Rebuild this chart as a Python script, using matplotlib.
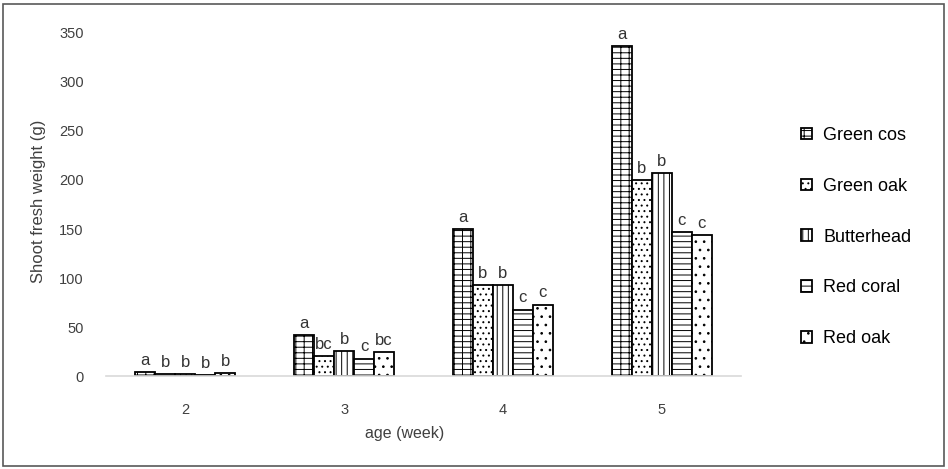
import numpy as np
import matplotlib
matplotlib.use("Agg")
import matplotlib.pyplot as plt
from matplotlib.patches import Rectangle

plt.rcParams['font.family'] = ['Liberation Sans', 'DejaVu Sans']
plt.rcParams['hatch.linewidth'] = 0.7
plt.rcParams['hatch.color'] = 'black'

# data
weeks = ['2', '3', '4', '5']
cultivars = ['Green cos', 'Green oak', 'Butterhead', 'Red coral', 'Red oak']
green_cos = [4.5, 42, 150, 336]
green_oak = [2.5, 20.5, 93, 200]
butterhead = [2.5, 26, 93, 207]
red_coral = [1.5, 18, 68, 147]
red_oak = [3, 24.5, 73, 144]
letters = [
    ['a', 'a', 'a', 'a'],
    ['b', 'bc', 'b', 'b'],
    ['b', 'b', 'b', 'b'],
    ['b', 'c', 'c', 'c'],
    ['b', 'bc', 'c', 'c'],
]
series = [green_cos, green_oak, butterhead, red_coral, red_oak]
hatches = ['---||', '...', '|||', '---', '..']

text_col = '#404040'

fig = plt.figure(figsize=(9.48, 4.69), dpi=100)
ax = fig.add_axes([106 / 948, 1 - 376.3 / 469, 635 / 948, 343.6 / 469])

x = np.arange(len(weeks))
w = 0.126
for i, (vals, name) in enumerate(zip(series, cultivars)):
    pos = x + (i - 2) * w
    bars = ax.bar(pos, vals, w, facecolor='white', edgecolor='black',
                  linewidth=1.3, hatch=hatches[i], label=name, zorder=2)
    for b, lab in zip(bars, letters[i]):
        ax.annotate(lab, (b.get_x() + b.get_width() / 2, b.get_height()),
                    xytext=(0, 3), textcoords='offset points',
                    ha='center', va='bottom', fontsize=12, color='#333333')

ax.set_xlim(-0.5, 3.5)
ax.set_ylim(0, 350)
ax.set_yticks(range(0, 351, 50))
ax.set_xticks(x)
ax.set_xticklabels(weeks)
ax.tick_params(length=0, labelsize=10.5, colors=text_col)
ax.tick_params(axis='x', pad=19)
ax.tick_params(axis='y', pad=16)
for s in ['top', 'right', 'left']:
    ax.spines[s].set_visible(False)
ax.spines['bottom'].set_color('#d9d9d9')
ax.spines['bottom'].set_linewidth(1.2)

ax.set_xlabel('age (week)', fontsize=11.5, color=text_col)
ax.xaxis.set_label_coords(0.47, -0.145)
ax.set_ylabel('Shoot fresh weight (g)', fontsize=12, color=text_col)
ax.yaxis.set_label_coords(-0.095, 0.51)

ax.legend(loc='center left', bbox_to_anchor=(785 / 948, 1 - 237 / 469),
          bbox_transform=fig.transFigure, frameon=False, fontsize=13,
          handlelength=0.62, handleheight=0.62, handletextpad=0.6,
          labelspacing=1.87, labelcolor='black')

fig.patches.append(Rectangle((3 / 948, 3 / 469), 941 / 948, 462 / 469,
                             transform=fig.transFigure, fill=False,
                             edgecolor='#595959', linewidth=1.2))

fig.savefig('out.png', dpi=100)
